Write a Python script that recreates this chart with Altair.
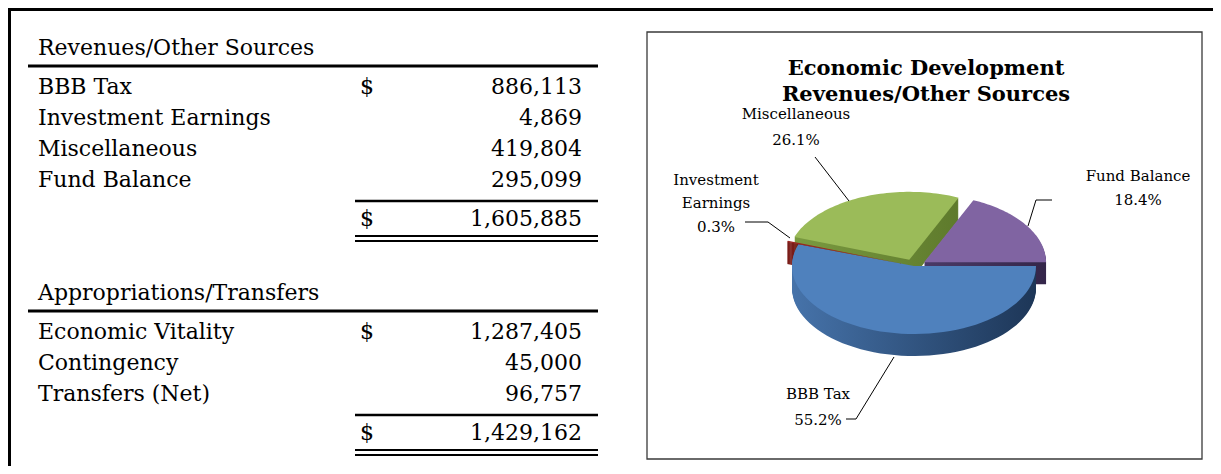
import altair as alt
import pandas as pd

# ---------------- data ----------------
rev_labels = ["BBB Tax", "Investment Earnings", "Miscellaneous", "Fund Balance"]
rev_values = [886113, 4869, 419804, 295099]
rev_total = 1605885

app_labels = ["Economic Vitality", "Contingency", "Transfers (Net)"]
app_values = [1287405, 45000, 96757]
app_total = 1429162

sec_titles = ["Revenues/Other Sources", "Appropriations/Transfers"]
pie_title = ["Economic Development", "Revenues/Other Sources"]

# ---------------- style ----------------
FONT = "DejaVu Serif"
TS = 22
top_colors = ["#4F81BD", "#9A2420", "#9BBB59", "#8064A2"]
side_grad = {
    "BBB Tax": ("#4673AA", "#1D3657"),
    "Investment Earnings": ("#7A1C18", "#5A120F"),
    "Miscellaneous": ("#7A9A40", "#5E7A2C"),
    "Fund Balance": ("#4A3A66", "#34264A"),
}
side_order = ["Miscellaneous", "Fund Balance", "Investment Earnings", "BBB Tax"]

W, H = 1205, 458
xs = alt.Scale(domain=[8, 8 + W])
ys = alt.Scale(domain=[8, 8 + H], reverse=True)
def X(f):
    return alt.X(f, type="quantitative", scale=xs, axis=None)
def Y(f):
    return alt.Y(f, type="quantitative", scale=ys, axis=None)

# ---------------- table layout ----------------
rows, heads, rules = [], [], []
def section(title, labels, values, total, top):
    heads.append({"t": title, "x": 38, "y": top})
    rules.append({"x": 28, "x2": 598, "y": top + 18, "w": 3})
    ry = [top + 39 + i * 31 for i in range(len(labels))]
    for i, (l, v) in enumerate(zip(labels, values)):
        rows.append({"label": l, "value": v, "dollar": "$" if i == 0 else "", "y": ry[i]})
    last = ry[-1]
    rules.append({"x": 355, "x2": 598, "y": last + 21, "w": 2.5})
    rows.append({"label": "", "value": total, "dollar": "$", "y": last + 39})
    rules.append({"x": 355, "x2": 598, "y": last + 56, "w": 2})
    rules.append({"x": 355, "x2": 598, "y": last + 61, "w": 2})

section(sec_titles[0], rev_labels, rev_values, rev_total, 48)
section(sec_titles[1], app_labels, app_values, app_total, 293)

rows_df = pd.DataFrame(rows)
rows_df["xl"] = 38
rows_df["xd"] = 367
rows_df["xv"] = 582
heads_df = pd.DataFrame(heads)
rules_df = pd.DataFrame(rules)

txt = dict(font=FONT, fontSize=TS, color="#000000", baseline="middle")
head_layer = alt.Chart(heads_df).mark_text(align="left", **txt).encode(x=X("x"), y=Y("y"), text="t:N")
label_layer = alt.Chart(rows_df).mark_text(align="left", **txt).encode(x=X("xl"), y=Y("y"), text="label:N")
dollar_layer = alt.Chart(rows_df).mark_text(align="center", **txt).encode(x=X("xd"), y=Y("y"), text="dollar:N")
value_layer = alt.Chart(rows_df).mark_text(align="right", **txt).encode(
    x=X("xv"), y=Y("y"), text=alt.Text("value:Q", format=",")
)
rule_layers = []
for w in sorted(set(rules_df["w"])):
    rule_layers.append(
        alt.Chart(rules_df[rules_df["w"] == w]).mark_rule(color="#000000", strokeWidth=float(w)).encode(
            x=X("x"), x2="x2:Q", y=Y("y")
        )
    )

# ---------------- frame ----------------
top_df = pd.DataFrame({"x": [8], "x2": [8 + W], "y": [9.5]})
frame_top = alt.Chart(top_df).mark_rule(color="#000000", strokeWidth=3).encode(x=X("x"), x2="x2:Q", y=Y("y"))
left_df = pd.DataFrame({"x": [9.5], "y": [8], "y2": [8 + H]})
frame_left = alt.Chart(left_df).mark_rule(color="#000000", strokeWidth=3).encode(x=X("x"), y=Y("y"), y2="y2:Q")
box_df = pd.DataFrame({"x": [647], "x2": [1202], "y": [32], "y2": [459]})
box = alt.Chart(box_df).mark_rect(fill="white", stroke="#3a3a3a", strokeWidth=1.3).encode(
    x=X("x"), x2="x2:Q", y=Y("y"), y2="y2:Q"
)

# ---------------- 3-D pie (tilted ellipse) ----------------
CX, CY, RX, RY, DEPTH, EXP, N = 914, 266, 122, 68, 22, 12, 60
pie_df = pd.DataFrame({"category": rev_labels, "value": rev_values, "order": list(range(len(rev_labels)))})

def pie_points():
    return (
        alt.Chart(pie_df)
        .transform_joinaggregate(total="sum(value)")
        .transform_window(cum="sum(value)", sort=[alt.SortField("order")], frame=[None, 0])
        .transform_calculate(
            start="(datum.cum - datum.value) / datum.total * 2 * PI + PI / 2",
            end="datum.cum / datum.total * 2 * PI + PI / 2",
            mid="(datum.start + datum.end) / 2",
            ex=f"datum.category == '{rev_labels[0]}' ? 0 : {EXP}",
            ocx=f"{CX} + datum.ex * sin(datum.mid)",
            ocy=f"{CY} - datum.ex * cos(datum.mid) * {RY / RX}",
            k=f"sequence(-1, {N + 1})",
        )
        .transform_flatten(["k"])
        .transform_calculate(
            a=f"datum.start + (datum.end - datum.start) * max(datum.k, 0) / {N}",
            px=f"datum.k < 0 ? datum.ocx : datum.ocx + {RX} * sin(datum.a)",
            py=f"datum.k < 0 ? datum.ocy : datum.ocy - {RY} * cos(datum.a)",
        )
    )

side_layers = []
for cat in side_order:
    c0, c1 = side_grad[cat]
    grad = alt.LinearGradient(
        gradient="linear", x1=0, x2=1, y1=0, y2=0,
        stops=[alt.GradientStop(color=c0, offset=0), alt.GradientStop(color=c1, offset=1)],
    )
    side_layers.append(
        pie_points()
        .transform_filter(alt.datum.category == cat)
        .transform_calculate(ds=f"sequence(1, {DEPTH + 1})")
        .transform_flatten(["ds"])
        .transform_calculate(pyd="datum.py + datum.ds")
        .mark_line(filled=True, color=grad)
        .encode(x=X("px"), y=Y("pyd"), order=alt.Order("k:Q"), detail="ds:Q")
    )

top_layer = pie_points().mark_line(filled=True).encode(
    x=X("px"), y=Y("py"), order=alt.Order("k:Q"), detail="category:N",
    color=alt.Color("category:N", scale=alt.Scale(domain=rev_labels, range=top_colors), legend=None),
)

# ---------------- pie title and labels ----------------
pct = [f"{v / sum(rev_values) * 100:.1f}%" for v in rev_values]
title_df = pd.DataFrame({"t": pie_title, "x": [926, 926], "y": [69, 95]})
title_layer = alt.Chart(title_df).mark_text(font=FONT, fontSize=21, fontWeight="bold", baseline="middle", color="#000").encode(
    x=X("x"), y=Y("y"), text="t:N"
)
lab_lines = [
    ("Miscellaneous", 796, 114), (pct[2], 796, 140),
    ("Investment", 716, 180), ("Earnings", 716, 203), (pct[1], 716, 227),
    ("Fund Balance", 1138, 176), (pct[3], 1138, 200),
    ("BBB Tax", 818, 394), (pct[0], 818, 420),
]
lab_df = pd.DataFrame(lab_lines, columns=["t", "x", "y"])
lab_layer = alt.Chart(lab_df).mark_text(font=FONT, fontSize=15, baseline="middle", color="#000").encode(
    x=X("x"), y=Y("y"), text="t:N"
)
leaders = [
    (815, 157, 849, 201),
    (745, 222, 768, 222), (768, 222, 790, 238),
    (1036, 200, 1052, 200), (1036, 200, 1028, 226),
    (894, 357, 856, 419), (856, 419, 846, 419),
]
lead_df = pd.DataFrame(leaders, columns=["x", "y", "x2", "y2"])
lead_layer = alt.Chart(lead_df).mark_rule(color="#000", strokeWidth=1).encode(
    x=X("x"), y=Y("y"), x2="x2:Q", y2="y2:Q"
)

chart = alt.layer(
    frame_top, frame_left, box,
    head_layer, label_layer, dollar_layer, value_layer, *rule_layers,
    *side_layers, top_layer, title_layer, lab_layer, lead_layer,
).properties(width=W, height=H, padding=0, autosize=alt.AutoSizeParams(type="none")).configure_view(stroke=None)

chart.save("out.html", embed_options={"renderer": "svg", "actions": False})
